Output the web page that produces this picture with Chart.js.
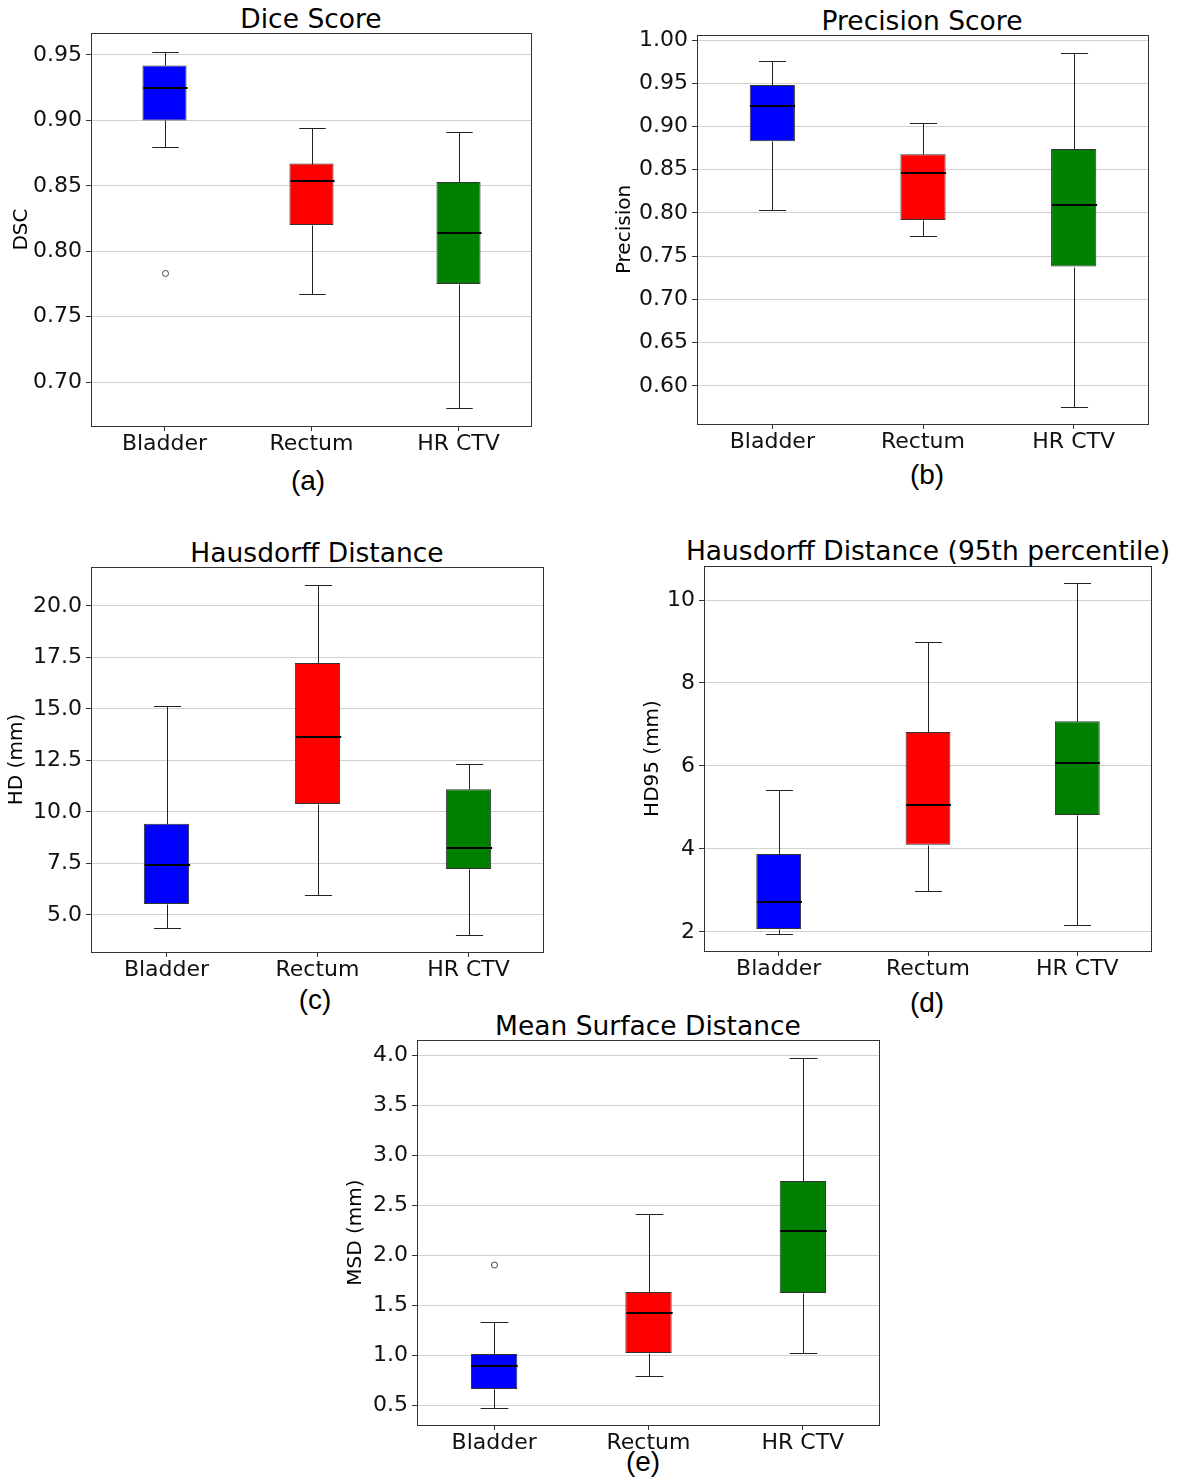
<!DOCTYPE html>
<html>
<head>
<meta charset="utf-8">
<script src="https://cdn.jsdelivr.net/npm/chart.js@4.4.0/dist/chart.umd.min.js"></script>
<style>
  body { margin: 0; background: #fff; width: 1178px; height: 1481px; position: relative; overflow: hidden; }
  canvas { position: absolute; }
  .title { position: absolute; width: 700px; text-align: center; font-family: "DejaVu Sans", sans-serif; font-size: 26.5px; line-height: 30px; color: #000; white-space: nowrap; }
  .cap { position: absolute; width: 100px; text-align: center; font-family: "Liberation Sans", Arial, sans-serif; font-size: 28px; line-height: 32px; color: #000; }
</style>
</head>
<body>
<div class="title" style="left:-39px;top:4px">Dice Score</div>
<div class="title" style="left:572px;top:6px">Precision Score</div>
<div class="title" style="left:-33px;top:538px">Hausdorff Distance</div>
<div class="title" style="left:578px;top:536px">Hausdorff Distance (95th percentile)</div>
<div class="title" style="left:298px;top:1011px">Mean Surface Distance</div>
<div class="cap" style="left:258px;top:465px">(a)</div>
<div class="cap" style="left:877px;top:459px">(b)</div>
<div class="cap" style="left:265px;top:984px">(c)</div>
<div class="cap" style="left:877px;top:987px">(d)</div>
<div class="cap" style="left:593px;top:1446px">(e)</div>

<canvas id="dice" width="535" height="437" style="left:0px;top:19px"></canvas>
<canvas id="prec" width="547" height="433" style="left:605px;top:21px"></canvas>
<canvas id="hd" width="547" height="429" style="left:0px;top:553px"></canvas>
<canvas id="hd95" width="520" height="429" style="left:635px;top:552px"></canvas>
<canvas id="msd" width="547" height="429" style="left:336px;top:1026px"></canvas>

<script>
const categories = ['Bladder', 'Rectum', 'HR CTV'];
const boxColors = ['#0000ff', '#ff0000', '#008000'];

// (a) Dice score
const dscLow = [0.880, 0.767, 0.680];
const dscQ1 = [0.900, 0.820, 0.775];
const dscMed = [0.925, 0.854, 0.814];
const dscQ3 = [0.942, 0.867, 0.853];
const dscHigh = [0.952, 0.894, 0.891];
const dscOutliers = [[0.783], [], []];
const dscTicks = [0.70, 0.75, 0.80, 0.85, 0.90, 0.95];

// (b) Precision
const precLow = [0.803, 0.773, 0.576];
const precQ1 = [0.883, 0.792, 0.738];
const precMed = [0.924, 0.846, 0.809];
const precQ3 = [0.948, 0.868, 0.874];
const precHigh = [0.976, 0.904, 0.985];
const precOutliers = [[], [], []];
const precTicks = [0.60, 0.65, 0.70, 0.75, 0.80, 0.85, 0.90, 0.95, 1.00];

// (c) Hausdorff distance
const hdLow = [4.37, 5.97, 4.03];
const hdQ1 = [5.53, 10.39, 7.23];
const hdMed = [7.43, 13.64, 8.25];
const hdQ3 = [9.42, 17.23, 11.10];
const hdHigh = [15.15, 21.02, 12.31];
const hdOutliers = [[], [], []];
const hdTicks = [5.0, 7.5, 10.0, 12.5, 15.0, 17.5, 20.0];

// (d) HD95
const hd95Low = [1.95, 2.99, 2.17];
const hd95Q1 = [2.07, 4.10, 4.82];
const hd95Med = [2.72, 5.06, 6.07];
const hd95Q3 = [3.88, 6.82, 7.08];
const hd95High = [5.42, 8.99, 10.41];
const hd95Outliers = [[], [], []];
const hd95Ticks = [2, 4, 6, 8, 10];

// (e) Mean surface distance
const msdLow = [0.47, 0.79, 1.02];
const msdQ1 = [0.66, 1.02, 1.62];
const msdMed = [0.89, 1.42, 2.24];
const msdQ3 = [1.01, 1.63, 2.74];
const msdHigh = [1.33, 2.41, 3.97];
const msdOutliers = [[1.90], [], []];
const msdTicks = [0.5, 1.0, 1.5, 2.0, 2.5, 3.0, 3.5, 4.0];

// whiskers, medians, outliers and the frame around the plot
const boxParts = {
  id: 'boxParts',
  afterDatasetsDraw(chart, args, opts) {
    const ctx = chart.ctx;
    const y = chart.scales.y;
    const meta = chart.getDatasetMeta(0);
    ctx.save();
    meta.data.forEach((bar, i) => {
      const cx = Math.round(bar.x) + 0.5;
      const half = bar.width / 2;
      const cap = bar.width * 0.3;
      const py = v => Math.round(y.getPixelForValue(v)) + 0.5;
      ctx.strokeStyle = '#222';
      ctx.lineWidth = 1;
      ctx.beginPath();
      ctx.moveTo(cx, py(opts.q3[i])); ctx.lineTo(cx, py(opts.high[i]));
      ctx.moveTo(cx, py(opts.q1[i])); ctx.lineTo(cx, py(opts.low[i]));
      ctx.moveTo(cx - cap, py(opts.high[i])); ctx.lineTo(cx + cap, py(opts.high[i]));
      ctx.moveTo(cx - cap, py(opts.low[i])); ctx.lineTo(cx + cap, py(opts.low[i]));
      ctx.stroke();
      ctx.strokeStyle = '#000';
      ctx.lineWidth = 2;
      ctx.beginPath();
      ctx.moveTo(cx - half, Math.round(y.getPixelForValue(opts.med[i])));
      ctx.lineTo(cx + half, Math.round(y.getPixelForValue(opts.med[i])));
      ctx.stroke();
      ctx.strokeStyle = '#444';
      ctx.lineWidth = 1;
      opts.outliers[i].forEach(v => {
        ctx.beginPath();
        ctx.arc(cx, y.getPixelForValue(v), 3, 0, Math.PI * 2);
        ctx.stroke();
      });
    });
    const a = chart.chartArea;
    ctx.strokeStyle = '#333';
    ctx.lineWidth = 1;
    ctx.strokeRect(Math.round(a.left) + 0.5, Math.round(a.top) + 0.5,
      Math.round(a.right - a.left) - 1, Math.round(a.bottom - a.top));
    ctx.restore();
  }
};

function boxChart(id, s, yTitle, ticks, decimals, yMin, yMax, yWidth, titlePad) {
  new Chart(document.getElementById(id), {
    type: 'bar',
    data: {
      labels: categories,
      datasets: [{
        data: s.q1.map((v, i) => [v, s.q3[i]]),
        backgroundColor: boxColors,
        borderColor: '#333',
        borderWidth: 1,
        borderSkipped: false,
        barPercentage: 0.3,
        categoryPercentage: 1
      }]
    },
    options: {
      responsive: false,
      animation: false,
      devicePixelRatio: 1,
      layout: { padding: { top: 14, right: 3, left: 0, bottom: 0 } },
      plugins: { legend: { display: false }, tooltip: { enabled: false }, boxParts: s },
      scales: {
        x: {
          grid: { offset: false, drawOnChartArea: false, drawTicks: true, tickLength: 5, color: '#333' },
          border: { display: false },
          ticks: { color: '#111', padding: 0, font: { family: 'DejaVu Sans', size: 22 } },
          afterFit: sc => { sc.height = 30; sc.paddingLeft = 0; sc.paddingRight = 0; }
        },
        y: {
          min: yMin,
          max: yMax,
          grid: { color: '#d0d0d0', tickColor: '#333', tickLength: 5 },
          border: { display: false },
          afterBuildTicks: sc => { sc.ticks = ticks.map(v => ({ value: v })); },
          ticks: {
            color: '#111', padding: 4,
            font: { family: 'DejaVu Sans', size: 22 },
            callback: v => Number(v).toFixed(decimals)
          },
          title: {
            display: true, text: yTitle, color: '#000',
            font: { family: 'DejaVu Sans', size: 20 },
            padding: { top: titlePad, bottom: 0 }
          },
          afterFit: sc => { sc.width = yWidth; sc.paddingTop = 0; sc.paddingBottom = 0; }
        }
      }
    },
    plugins: [boxParts]
  });
}

boxChart('dice', { low: dscLow, q1: dscQ1, med: dscMed, q3: dscQ3, high: dscHigh, outliers: dscOutliers },
  'DSC', dscTicks, 2, 0.6664, 0.9668, 91, 10);
boxChart('prec', { low: precLow, q1: precQ1, med: precMed, q3: precQ3, high: precHigh, outliers: precOutliers },
  'Precision', precTicks, 2, 0.556, 1.0058, 92, 8);
boxChart('hd', { low: hdLow, q1: hdQ1, med: hdMed, q3: hdQ3, high: hdHigh, outliers: hdOutliers },
  'HD (mm)', hdTicks, 1, 3.20, 21.89, 91, 5);
boxChart('hd95', { low: hd95Low, q1: hd95Q1, med: hd95Med, q3: hd95Q3, high: hd95High, outliers: hd95Outliers },
  'HD95 (mm)', hd95Ticks, 0, 1.54, 10.82, 69, 6);
boxChart('msd', { low: msdLow, q1: msdQ1, med: msdMed, q3: msdQ3, high: msdHigh, outliers: msdOutliers },
  'MSD (mm)', msdTicks, 1, 0.30, 4.15, 81, 8);
</script>
</body>
</html>
